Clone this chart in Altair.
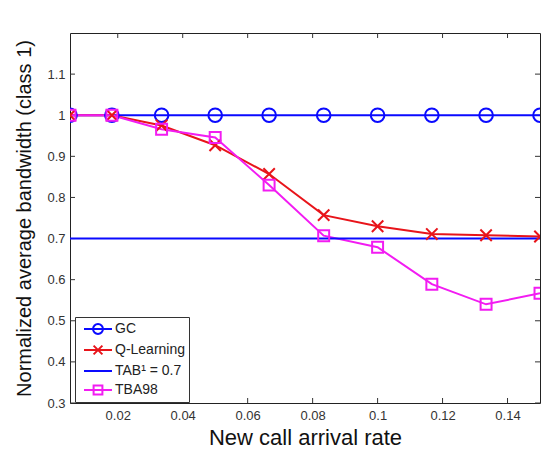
import altair as alt
import pandas as pd

# ---- data ----
x_vals = [0.0053, 0.0182, 0.0335, 0.05, 0.0666, 0.0834, 0.1, 0.1167, 0.1334, 0.15]
gc_vals = [1.0, 1.0, 1.0, 1.0, 1.0, 1.0, 1.0, 1.0, 1.0, 1.0]
q_vals = [1.0, 1.0, 0.975, 0.927, 0.857, 0.757, 0.730, 0.711, 0.708, 0.705]
tba_vals = [1.0, 1.0, 0.966, 0.946, 0.830, 0.707, 0.679, 0.589, 0.540, 0.567]
tab_level = 0.7

series = ["GC", "Q-Learning", "TAB¹ = 0.7", "TBA98"]
colors = ["#0a0aff", "#e8141a", "#0a0aff", "#f21cf2"]
x_ticks = [0.02, 0.04, 0.06, 0.08, 0.1, 0.12, 0.14]
y_ticks = [0.3, 0.4, 0.5, 0.6, 0.7, 0.8, 0.9, 1.0, 1.1]
y_domain = [0.3, 1.2]

rows = []
for name, vals in [("GC", gc_vals), ("Q-Learning", q_vals), ("TBA98", tba_vals)]:
    for xv, yv in zip(x_vals, vals):
        rows.append({"x": xv, "y": yv, "series": name})
rows.append({"x": x_vals[0], "y": tab_level, "series": "TAB¹ = 0.7"})
rows.append({"x": x_vals[-1], "y": tab_level, "series": "TAB¹ = 0.7"})
df = pd.DataFrame(rows)
# legend-only rows, placed below the visible y range (clipped away)
df_legend = pd.DataFrame({"x": [x_vals[0]] * 4, "y": [0.0] * 4, "series": series})

FONT = "Liberation Sans"
W, H = 470, 370

x_enc = alt.X(
    "x:Q",
    scale=alt.Scale(domain=[x_vals[0], x_vals[-1]], nice=False, zero=False),
    axis=alt.Axis(values=x_ticks, format="~g", tickSize=0, labelPadding=6,
                  grid=False, domain=False, title="New call arrival rate",
                  titleFontSize=22, titleFontWeight="normal", titlePadding=5,
                  labelFontSize=13),
)
y_enc = alt.Y(
    "y:Q",
    scale=alt.Scale(domain=y_domain, nice=False, zero=False),
    axis=alt.Axis(values=y_ticks, tickSize=0, labelPadding=5, grid=False, domain=False,
                  labelExpr="datum.value == 1 ? '1' : format(datum.value, '.1f')",
                  title="Normalized average bandwidth (class 1)",
                  titleFontSize=20, titleFontWeight="normal", titlePadding=12,
                  labelFontSize=13),
)

color_scale = alt.Scale(domain=series, range=colors)

X_PATH = "M-1,-1L1,1M-1,1L1,-1"
legend_paths = [
    "M-1.75,0L1.75,0M0.62,0A0.62,0.62 0 1,1 -0.62,0A0.62,0.62 0 1,1 0.62,0",
    "M-1.75,0L1.75,0M-0.55,-0.55L0.55,0.55M-0.55,0.55L0.55,-0.55",
    "M-1.75,0L1.75,0",
    "M-1.75,0L1.75,0M-0.55,-0.55L0.55,-0.55L0.55,0.55L-0.55,0.55Z",
]

lines = alt.Chart(df).mark_line(strokeWidth=2, clip=True).encode(
    x=x_enc, y=y_enc,
    color=alt.Color("series:N", scale=color_scale, legend=None),
)


def marker_layer(name, shape, size):
    return alt.Chart(df).transform_filter(
        alt.datum.series == name
    ).mark_point(filled=False, strokeWidth=2, clip=True, opacity=1,
                 shape=shape, size=size).encode(
        x=x_enc, y=y_enc,
        color=alt.Color("series:N", scale=color_scale, legend=None),
    )


gc_marks = marker_layer("GC", "circle", 185)
q_marks = marker_layer("Q-Learning", X_PATH, 130)
tba_marks = marker_layer("TBA98", "square", 120)

legend_cfg = dict(orient="none", legendX=5, legendY=284, title=None,
                  symbolSize=256, symbolStrokeWidth=2, symbolOffset=11,
                  labelFontSize=14, labelFont=FONT, labelColor="#222",
                  fillColor="white", strokeColor="#333", padding=3,
                  rowPadding=3, labelOffset=8)

legend_layer = alt.Chart(df_legend).mark_point(filled=False, strokeWidth=2, clip=True, opacity=1).encode(
    x=x_enc, y=y_enc,
    color=alt.Color("series:N", scale=color_scale, legend=alt.Legend(**legend_cfg)),
    shape=alt.Shape("series:N", scale=alt.Scale(domain=series, range=legend_paths),
                    legend=alt.Legend(**legend_cfg)),
)

tick_color = "#333333"
xt_df = pd.DataFrame({"x": x_ticks})
yt_df = pd.DataFrame({"y": y_ticks})
xt_bottom = alt.Chart(xt_df).mark_rule(color=tick_color).encode(x=x_enc, y=alt.value(H), y2=alt.value(H - 5))
xt_top = alt.Chart(xt_df).mark_rule(color=tick_color).encode(x=x_enc, y=alt.value(0), y2=alt.value(5))
yt_left = alt.Chart(yt_df).mark_rule(color=tick_color).encode(y=y_enc, x=alt.value(0), x2=alt.value(5))
yt_right = alt.Chart(yt_df).mark_rule(color=tick_color).encode(y=y_enc, x=alt.value(W), x2=alt.value(W - 5))

chart = alt.layer(
    xt_bottom, xt_top, yt_left, yt_right, lines, gc_marks, q_marks, tba_marks, legend_layer
).resolve_scale(
    color="independent", shape="independent"
).properties(
    width=W, height=H,
    autosize=alt.AutoSizeParams(type="none"),
    padding={"left": 62, "top": 25, "right": 1, "bottom": 48},
    background="white",
).configure_view(
    stroke="#222", strokeWidth=1
).configure_axis(
    labelFont=FONT, titleFont=FONT, labelColor="#333", titleColor="#111"
)

chart.save("out.html", embed_options={"renderer": "svg", "actions": False})
